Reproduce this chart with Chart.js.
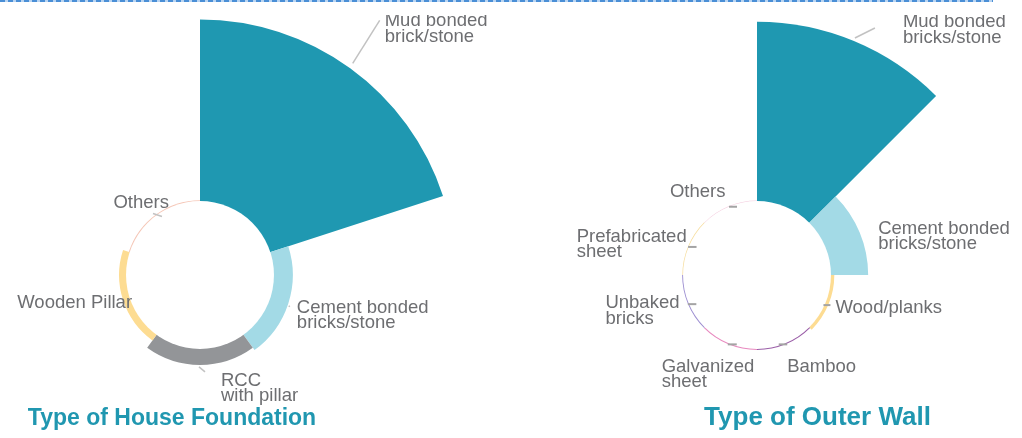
<!DOCTYPE html>
<html>
<head>
<meta charset="utf-8">
<script src="https://cdn.jsdelivr.net/npm/chart.js@4/dist/chart.umd.min.js"></script>
<style>
  html, body { margin: 0; padding: 0; background: #fff; width: 1022px; height: 438px; overflow: hidden; position: relative; }
  #topRule { position: absolute; left: 0; top: 0; width: 993px; height: 2px;
    background: repeating-linear-gradient(90deg, #4a8fd6 0 5px, #b9d4f1 5px 8px); }
  canvas { position: absolute; }
  #foundationChart { left: -60px; top: 15px; }
  #wallChart { left: 497px; top: 15px; }
</style>
</head>
<body>
<div id="topRule"></div>
<canvas id="foundationChart" width="560" height="520"></canvas>
<canvas id="wallChart" width="520" height="520"></canvas>
<script>
// House foundation (percent of households)
var foundationLabels = [
  ['Mud bonded', 'brick/stone'],
  ['Cement bonded', 'bricks/stone'],
  ['RCC', 'with pillar'],
  ['Wooden Pillar'],
  ['Others']
];
var foundationValues = [81, 8.4, 7.1, 3.1, 0.4];
var foundationColors = ['#1f98b1', '#a3dae6', '#939598', '#fddc92', '#f5c6b6'];

// Outer wall
var wallLabels = [
  ['Mud bonded', 'bricks/stone'],
  ['Cement bonded', 'bricks/stone'],
  ['Wood/planks'],
  ['Bamboo'],
  ['Galvanized', 'sheet'],
  ['Unbaked', 'bricks'],
  ['Prefabricated', 'sheet'],
  ['Others']
];
var wallValues = [80, 16.6, 1.5, 0.5, 0.5, 0.4, 0.3, 0.2];
var wallColors = ['#1f98b1', '#a3dae6', '#fddc92', '#9b5fa8', '#e889bf', '#9d8fd1', '#f6dc9a', '#f4cbdd'];

// label placement, offsets from the outer edge of each slice (mid angle)
var foundationLayout = [
  { line: [2.5, -5, 29.5, -48], text: [34.5, -42] },
  { line: [0.5, 2, 1.5, 3], text: [8.6, 9.3] },
  { line: [-1, 2, 5, 7], text: [21, 21] },
  { text: [9, 8], align: 'right' },
  { line: [-3, -1, 6, 2], text: [13, -6], align: 'right' }
];
var wallLayout = [
  { line: [1, -3, 21, -13], text: [49, -14] },
  { text: [18.5, 1.5] },
  { line: [-5, 0.5, 2, 0.5], text: [7, 8.5], tick: true },
  { line: [-7, 0, 1.5, 0], text: [1.5, 27.5], tick: true },
  { line: [-0.5, 0, 8.5, 0], text: [-66.6, 27.5], tick: true },
  { line: [0, 0.5, 8.5, 0.5], text: [-82.4, 4.6], tick: true },
  { line: [0, 0.5, 8.5, 0.5], text: [-111.4, -4.6], tick: true },
  { line: [0.5, 0.5, 8.5, 0.5], text: [-58.6, -9.4], tick: true }
];

var FONT = '"Liberation Sans", Arial, Helvetica, sans-serif';

function ringPlugin(labels, layout, title, titleOffset, titleSize) {
  return {
    id: 'ringLabels',
    afterDatasetsDraw: function (chart) {
      var ctx = chart.ctx;
      var scale = chart.scales.r;
      var cx = scale.xCenter, cy = scale.yCenter;
      var hole = scale.getDistanceFromCenterForValue(0);
      ctx.save();
      // punch the hole
      ctx.fillStyle = '#fff';
      ctx.beginPath();
      ctx.arc(cx, cy, hole, 0, Math.PI * 2);
      ctx.fill();

      var arcs = chart.getDatasetMeta(0).data;
      ctx.font = '18.5px ' + FONT;
      arcs.forEach(function (arc, i) {
        var L = layout[i];
        var mid = (arc.startAngle + arc.endAngle) / 2;
        var ax = arc.x + Math.cos(mid) * arc.outerRadius;
        var ay = arc.y + Math.sin(mid) * arc.outerRadius;
        if (L.line) {
          ctx.strokeStyle = L.tick ? '#a4a4a4' : '#c2c2c2';
          ctx.lineWidth = L.tick ? 2 : 1.5;
          ctx.beginPath();
          ctx.moveTo(ax + L.line[0], ay + L.line[1]);
          ctx.lineTo(ax + L.line[2], ay + L.line[3]);
          ctx.stroke();
        }
        ctx.fillStyle = '#6d6e71';
        ctx.textAlign = L.align || 'left';
        ctx.textBaseline = 'alphabetic';
        labels[i].forEach(function (t, k) {
          ctx.fillText(t, ax + L.text[0], ay + L.text[1] + k * 15.5);
        });
      });

      ctx.font = 'bold ' + titleSize + 'px ' + FONT;
      ctx.fillStyle = '#2097b0';
      ctx.textAlign = 'center';
      ctx.fillText(title, cx + titleOffset[0], cy + titleOffset[1]);
      ctx.restore();
    }
  };
}

function makeRose(id, labels, values, colors, layout, title, titleOffset, titleSize, padRight) {
  return new Chart(document.getElementById(id).getContext('2d'), {
    type: 'polarArea',
    data: {
      labels: labels.map(function (l) { return l.join(' '); }),
      datasets: [{
        data: values,
        backgroundColor: colors,
        borderWidth: 0
      }]
    },
    options: {
      responsive: false,
      animation: false,
      layout: { padding: { right: padRight } },
      plugins: {
        legend: { display: false },
        tooltip: { enabled: false }
      },
      scales: {
        r: {
          display: false,
          min: -33,
          max: 83,
          startAngle: 0
        }
      }
    },
    plugins: [ringPlugin(labels, layout, title, titleOffset, titleSize)]
  });
}

makeRose('foundationChart', foundationLabels, foundationValues, foundationColors,
  foundationLayout, 'Type of House Foundation', [-28, 150], 23, 40);
makeRose('wallChart', wallLabels, wallValues, wallColors,
  wallLayout, 'Type of Outer Wall', [60.5, 150], 26, 0);
</script>
</body>
</html>
